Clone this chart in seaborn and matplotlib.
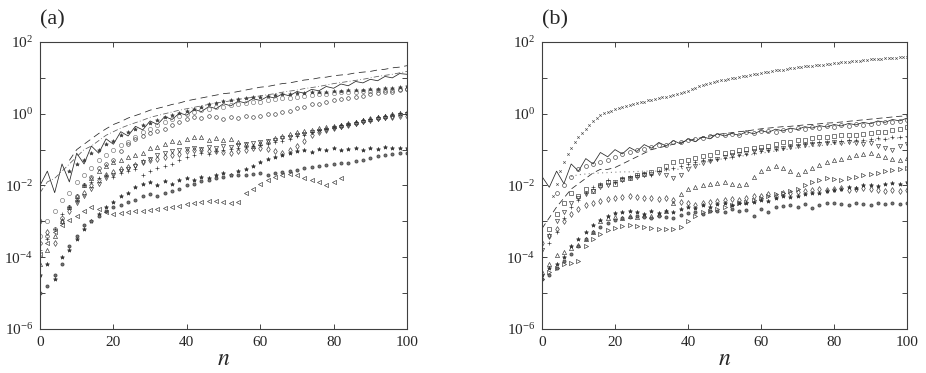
import numpy as np
import pandas as pd
import matplotlib
matplotlib.use("Agg")
import matplotlib.pyplot as plt
import matplotlib.ticker as mticker
import seaborn as sns

sns.set_style("ticks")
plt.rcParams["font.family"] = "serif"
plt.rcParams["font.serif"] = ["Liberation Serif", "DejaVu Serif"]
plt.rcParams["mathtext.fontset"] = "stix"

nan = np.nan

# n grid (every second step) and the fine grid for the x-series
N2 = list(range(0, 101, 2))
N1 = list(range(3, 101))

# ---- panel (a): log10 values at n = 0, 2, ..., 100 ----
a_longdash = [nan, nan, nan, nan, -1.3,
              -1.0, -0.85, -0.7, -0.55, -0.42,
              -0.3, -0.22, -0.12, -0.05, 0.02,
              0.1, 0.15, 0.2, 0.26, 0.3,
              0.36, 0.4, 0.44, 0.48, 0.52,
              0.56, 0.58, 0.62, 0.66, 0.7,
              0.74, 0.76, 0.8, 0.84, 0.86,
              0.9, 0.94, 0.96, 1.0, 1.02,
              1.06, 1.08, 1.1, 1.14, 1.16,
              1.18, 1.22, 1.24, 1.28, 1.3,
              1.34]
a_dashdot = [-2.2, -1.9, -1.8, -1.6, -1.4,
             -1.2, -1.0, -0.9, -0.75, -0.6,
             -0.5, -0.4, -0.32, -0.25, -0.18,
             -0.1, -0.05, 0.0, 0.05, 0.1,
             0.14, 0.18, 0.22, 0.26, 0.3,
             0.33, 0.36, 0.4, 0.43, 0.46,
             0.5, 0.53, 0.56, 0.6, 0.63,
             0.66, 0.7, 0.73, 0.76, 0.8,
             0.84, 0.87, 0.9, 0.93, 0.96,
             1.0, 1.04, 1.07, 1.1, 1.14,
             1.18]
a_solid = [-2.0, -1.6, -2.2, -1.4, -1.9,
           -1.1, -1.4, -0.9, -1.1, -0.7,
           -0.85, -0.5, -0.62, -0.35, -0.45,
           -0.2, -0.3, -0.08, -0.16, 0.02,
           -0.04, 0.12, 0.06, 0.2, 0.14,
           0.28, 0.22, 0.35, 0.3, 0.42,
           0.37, 0.48, 0.44, 0.55, 0.5,
           0.62, 0.57, 0.68, 0.64, 0.76,
           0.71, 0.83, 0.78, 0.9, 0.86,
           0.96, 0.92, 1.04, 1.0, 1.12,
           1.1]
a_circ = [-3.4, -3.0, -2.7, -2.4, -2.2,
          -1.9, -1.7, -1.5, -1.3, -1.15,
          -1.0, -0.88, -0.78, -0.65, -0.52,
          -0.42, -0.32, -0.22, -0.14, -0.06,
          0.0, 0.05, 0.1, 0.14, 0.18,
          0.2, 0.23, 0.26, 0.29, 0.32,
          0.34, 0.37, 0.4, 0.43, 0.45,
          0.48, 0.5, 0.52, 0.54, 0.56,
          0.58, 0.6, 0.61, 0.62, 0.63,
          0.64, 0.65, 0.66, 0.67, 0.68,
          0.7]
a_ast = [nan, nan, nan, nan, -1.6,
         -1.4, -1.3, -1.1, -1.0, -0.85,
         -0.75, -0.6, -0.5, -0.42, -0.32,
         -0.25, -0.18, -0.1, -0.04, 0.02,
         0.08, 0.14, 0.2, 0.26, 0.3,
         0.35, 0.38, 0.42, 0.44, 0.46,
         0.48, 0.5, 0.52, 0.54, 0.56,
         0.58, 0.59, 0.6, 0.61, 0.62,
         0.63, 0.64, 0.65, 0.66, 0.67,
         0.68, 0.7, 0.71, 0.72, 0.74,
         0.76]
a_osm = [-3.6, -3.4, -3.2, -2.9, -2.6,
         -2.3, -2.0, -1.75, -1.5, -1.4,
         -1.3, -1.05, -0.85, -0.7, -0.62,
         -0.55, -0.48, -0.42, -0.32, -0.22,
         -0.15, -0.1, -0.12, -0.06, -0.1,
         -0.14, -0.08, -0.12, -0.05, -0.1,
         -0.06, 0.0, -0.02, 0.06, 0.08,
         0.16, 0.18, 0.26, 0.28, 0.34,
         0.38, 0.42, 0.45, 0.48, 0.5,
         0.55, 0.57, 0.6, 0.62, 0.66,
         0.68]
a_tri = [-4.2, -3.8, -3.4, -3.0, -2.6,
         -2.3, -2.0, -1.8, -1.6, -1.45,
         -1.35, -1.3, -1.2, -1.15, -1.1,
         -0.95, -0.92, -0.85, -0.75, -0.78,
         -0.7, -0.66, -0.65, -0.72, -0.68,
         -0.74, -0.7, -0.78, -0.85, -0.9,
         -0.82, -0.75, -0.68, -0.62, -0.56,
         -0.5, -0.48, -0.44, -0.4, -0.36,
         -0.34, -0.3, -0.26, -0.22, -0.18,
         -0.14, -0.1, -0.06, -0.02, 0.02,
         0.05]
a_dia = [-3.0, -3.3, -3.6, -3.0, -2.7,
         -2.4, -2.2, -2.0, -1.85, -1.72,
         -1.62, -1.55, -1.48, -1.42, -1.35,
         -1.28, -1.25, -1.2, -1.15, -1.12,
         -1.05, -1.02, -1.0, -1.04, -1.05,
         -1.08, -1.1, -1.05, -1.0, -0.96,
         -0.95, -0.98, -1.05, -1.1, -1.0,
         -0.9, -0.75, -0.6, -0.5, -0.45,
         -0.4, -0.34, -0.3, -0.25, -0.2,
         -0.16, -0.13, -0.1, -0.08, -0.06,
         -0.05]
a_tdn = [nan, nan, nan, nan, nan,
         -2.5, -2.3, -2.1, -1.95, -1.8,
         -1.7, -1.6, -1.55, -1.45, -1.35,
         -1.25, -1.15, -1.1, -1.05, -1.0,
         -0.98, -0.95, -0.98, -0.92, -0.95,
         -0.9, -0.92, -0.88, -0.85, -0.82,
         -0.8, -0.76, -0.72, -0.68, -0.64,
         -0.6, -0.56, -0.52, -0.48, -0.44,
         -0.4, -0.36, -0.32, -0.28, -0.24,
         -0.2, -0.16, -0.12, -0.08, -0.04,
         0.0]
a_plus = [-3.8, -3.5, -3.2, -2.8, -2.6,
          -2.4, -2.0, -1.9, -1.8, -1.7,
          -1.75, -1.65, -1.6, -1.55, -1.7,
          -1.6, -1.5, -1.45, -1.4, -1.3,
          -1.2, -1.15, -1.1, -1.12, -1.05,
          -1.0, -0.98, -0.95, -0.92, -0.9,
          -0.88, -0.85, -0.8, -0.75, -0.7,
          -0.62, -0.58, -0.52, -0.46, -0.42,
          -0.38, -0.32, -0.28, -0.22, -0.18,
          -0.14, -0.1, -0.05, -0.02, 0.02,
          0.06]
a_star = [-4.5, -4.2, -4.6, -4.0, -3.8,
          -3.5, -3.2, -3.0, -2.8, -2.6,
          -2.45, -2.3, -2.2, -2.05, -1.95,
          -1.9, -2.0, -1.88, -1.95, -1.85,
          -1.8, -1.85, -1.75, -1.8, -1.7,
          -1.65, -1.7, -1.6, -1.55, -1.45,
          -1.35, -1.25, -1.2, -1.15, -1.1,
          -1.05, -1.0, -1.08, -0.98, -1.02,
          -0.95, -1.0, -0.97, -0.95, -1.0,
          -0.95, -0.98, -0.94, -0.96, -0.95,
          -0.95]
a_hex = [-5.0, -4.8, -4.5, -4.2, -3.7,
         -3.4, -3.1, -3.0, -2.85, -2.7,
         -2.6, -2.55, -2.45, -2.4, -2.3,
         -2.25, -2.28, -2.2, -2.15, -2.1,
         -2.0, -1.95, -1.88, -1.85, -1.8,
         -1.75, -1.72, -1.7, -1.72, -1.68,
         -1.66, -1.7, -1.65, -1.62, -1.6,
         -1.58, -1.52, -1.48, -1.45, -1.42,
         -1.4, -1.38, -1.36, -1.32, -1.28,
         -1.22, -1.18, -1.15, -1.12, -1.1,
         -1.1]
a_left = [-3.9, -3.6, -3.3, -3.1, -2.95,
          -2.85, -2.7, -2.6, -2.65, -2.75,
          -2.8, -2.78, -2.75, -2.72, -2.7,
          -2.68, -2.65, -2.62, -2.6, -2.56,
          -2.52, -2.5, -2.46, -2.42, -2.42,
          -2.45, -2.5, -2.45, -2.2, -2.1,
          -1.95, -1.85, -1.75, -1.7, -1.68,
          -1.72, -1.78, -1.85, -1.9, -1.98,
          -1.9, -1.78, nan, nan, nan,
          nan, nan, nan, nan, nan,
          nan]

# ---- panel (b) ----
b_cross = [-2.3, -1.95, -1.6, -1.34, -1.12, -0.95, -0.8,
           -0.66, -0.53, -0.42, -0.3, -0.2, -0.11, -0.04, 0.01, 0.05, 0.09,
           0.12, 0.15, 0.18, 0.21, 0.24, 0.26, 0.29, 0.32, 0.34, 0.37,
           0.39, 0.41, 0.43, 0.46, 0.48, 0.5, 0.53, 0.55, 0.58, 0.61,
           0.64, 0.68, 0.72, 0.76, 0.79, 0.82, 0.85, 0.88, 0.9, 0.93,
           0.95, 0.97, 0.99, 1.0, 1.02, 1.04, 1.06, 1.08, 1.1, 1.12,
           1.14, 1.16, 1.17, 1.19, 1.21, 1.22, 1.23, 1.25, 1.27, 1.28,
           1.3, 1.31, 1.32, 1.33, 1.34, 1.35, 1.36, 1.37, 1.38, 1.39,
           1.41, 1.42, 1.43, 1.44, 1.45, 1.46, 1.47, 1.48, 1.5, 1.51,
           1.52, 1.52, 1.53, 1.54, 1.55, 1.55, 1.56, 1.56, 1.57, 1.58,
           1.58]
b_solid = [-1.75, -2.05, -1.6, -1.95, -1.4,
           -1.6, -1.25, -1.4, -1.08, -1.2,
           -1.0, -1.12, -0.94, -1.05, -0.86,
           -0.96, -0.8, -0.9, -0.75, -0.84,
           -0.7, -0.78, -0.64, -0.7, -0.56,
           -0.62, -0.55, -0.6, -0.5, -0.56,
           -0.47, -0.52, -0.43, -0.48, -0.4,
           -0.44, -0.36, -0.4, -0.33, -0.37,
           -0.3, -0.34, -0.27, -0.31, -0.24,
           -0.28, -0.2, -0.24, -0.16, -0.2,
           -0.12]
b_dash = [-3.2, -2.9, -2.6, -2.35, -2.1,
          -1.95, -1.8, -1.65, -1.55, -1.55,
          -1.5, -1.4, -1.3, -1.2, -1.1,
          -1.0, -0.95, -0.9, -0.85, -0.8,
          -0.75, -0.7, -0.66, -0.62, -0.58,
          -0.55, -0.53, -0.5, -0.48, -0.45,
          -0.42, -0.4, -0.38, -0.36, -0.35,
          -0.33, -0.31, -0.3, -0.28, -0.26,
          -0.25, -0.23, -0.21, -0.19, -0.17,
          -0.15, -0.13, -0.11, -0.09, -0.07,
          -0.06]
b_dot = [nan, nan, nan, nan, -1.75,
         -1.7, -1.68, -1.66, -1.65, -1.64,
         -1.63, -1.62, -1.62, -1.61, -1.6,
         -1.6, -1.6, -1.58, -1.56, -1.54,
         -1.5, -1.45, -1.38, -1.32, -1.28,
         -1.25, -1.22, -1.19, -1.16, -1.13,
         -1.1, -1.07, -1.04, -1.01, -0.98,
         -0.95, -0.93, -0.91, -0.89, -0.87,
         -0.85, -0.83, -0.81, -0.79, -0.77,
         -0.75, -0.73, -0.71, -0.69, -0.67,
         -0.65]
b_circ = [nan, nan, -2.2, -2.0, -1.75,
          -1.55, -1.45, -1.4, -1.35, -1.3,
          -1.2, -1.12, -1.08, -1.02, -0.98,
          -0.93, -0.88, -0.86, -0.8, -0.78,
          -0.74, -0.7, -0.68, -0.63, -0.6,
          -0.6, -0.56, -0.58, -0.52, -0.53,
          -0.49, -0.47, -0.5, -0.44, -0.46,
          -0.41, -0.43, -0.38, -0.4, -0.35,
          -0.36, -0.32, -0.34, -0.29, -0.32,
          -0.28, -0.26, -0.24, -0.22, -0.2,
          -0.18]
b_sq = [nan, -3.2, -2.8, -2.5, -2.2,
        -2.3, -2.1, -2.15, -2.0, -1.9,
        -1.95, -1.82, -1.8, -1.72, -1.68,
        -1.62, -1.55, -1.45, -1.35, -1.32,
        -1.28, -1.22, -1.18, -1.15, -1.08,
        -1.1, -1.06, -1.02, -0.98, -0.96,
        -0.93, -0.9, -0.84, -0.8, -0.78,
        -0.74, -0.72, -0.68, -0.65, -0.64,
        -0.62, -0.6, -0.6, -0.58, -0.56,
        -0.54, -0.5, -0.5, -0.46, -0.42,
        -0.38]
b_plus = [-4.0, -3.6, -3.3, -2.9, -2.6,
          -2.4, -2.2, -2.05, -1.95, -1.85,
          -1.9, -1.8, -1.75, -1.7, -1.65,
          -1.7, -1.6, -1.55, -1.5, -1.45,
          -1.4, -1.35, -1.3, -1.28, -1.25,
          -1.22, -1.2, -1.15, -1.12, -1.1,
          -1.05, -1.0, -0.98, -0.95, -0.9,
          -0.88, -0.85, -0.82, -0.8, -0.78,
          -0.78, -0.75, -0.74, -0.72, -0.72,
          -0.7, -0.68, -0.7, -0.66, -0.64,
          -0.62]
b_tdn = [-3.8, -3.4, -3.0, -2.75, -2.5,
         -2.35, -2.25, -2.15, -2.05, -1.98,
         -1.9, -1.85, -1.78, -1.75, -1.7,
         -1.68, -1.65, -1.72, -1.78, -1.7,
         -1.55, -1.45, -1.38, -1.32, -1.25,
         -1.2, -1.15, -1.12, -1.1, -1.05,
         -1.02, -1.0, -0.98, -0.95, -0.92,
         -0.9, -0.88, -0.85, -0.85, -0.82,
         -0.8, -0.82, -0.8, -0.82, -0.85,
         -0.82, -0.9, -0.95, -1.0, -0.9,
         -0.85]
b_tup = [-4.4, -4.2, -3.95, -3.85, -3.75,
         -3.65, -3.5, -3.3, -3.0, -2.92,
         -2.88, -2.9, -2.85, -2.88, -2.82,
         -2.85, -2.8, -2.7, -2.5, -2.25,
         -2.1, -2.05, -2.0, -1.95, -1.92,
         -1.9, -1.95, -2.0, -1.95, -1.75,
         -1.6, -1.5, -1.45, -1.52, -1.6,
         -1.68, -1.6, -1.5, -1.42, -1.35,
         -1.3, -1.25, -1.2, -1.15, -1.12,
         -1.1, -1.15, -1.2, -1.25, -1.28,
         -1.22]
b_dia = [-3.6, -3.4, -3.2, -3.0, -2.8,
         -2.65, -2.55, -2.48, -2.42, -2.38,
         -2.35, -2.32, -2.3, -2.32, -2.35,
         -2.36, -2.38, -2.36, -2.4, -2.45,
         -2.5, -2.55, -2.5, -2.45, -2.42,
         -2.4, -2.38, -2.4, -2.36, -2.3,
         -2.28, -2.25, -2.3, -2.22, -2.2,
         -2.18, -2.15, -2.12, -2.1, -2.12,
         -2.1, -2.08, -2.12, -2.1, -2.08,
         -2.1, -2.12, -2.14, -2.12, -2.14,
         -2.12]
b_rt = [-4.6, -4.4, -4.3, -4.2, -4.15,
        -4.1, -3.7, -3.5, -3.35, -3.25,
        -3.18, -3.12, -3.1, -3.12, -3.15,
        -3.18, -3.2, -3.22, -3.22, -3.15,
        -3.0, -2.85, -2.75, -2.7, -2.65,
        -2.6, -2.55, -2.5, -2.45, -2.4,
        -2.35, -2.3, -2.25, -2.2, -2.15,
        -2.1, -2.0, -1.9, -1.85, -1.8,
        -1.82, -1.85, -1.8, -1.75, -1.72,
        -1.68, -1.65, -1.6, -1.58, -1.55,
        -1.5]
b_star = [-4.5, -4.3, -4.2, -4.0, -3.7,
          -3.5, -3.3, -3.1, -2.95, -2.85,
          -2.78, -2.75, -2.7, -2.75, -2.8,
          -2.72, -2.78, -2.7, -2.75, -2.65,
          -2.6, -2.62, -2.55, -2.6, -2.52,
          -2.5, -2.55, -2.48, -2.5, -2.45,
          -2.4, -2.42, -2.35, -2.3, -2.32,
          -2.28, -2.25, -2.2, -2.22, -2.15,
          -2.12, -2.1, -2.05, -2.08, -2.0,
          -1.98, -2.02, -1.95, -1.92, -1.95,
          -1.9]
b_hex = [-4.6, -4.5, -4.3, -4.1, -3.9,
         -3.7, -3.5, -3.3, -3.15, -3.05,
         -2.95, -2.9, -2.88, -2.85, -2.88,
         -2.9, -2.85, -2.88, -2.9, -2.82,
         -2.78, -2.75, -2.8, -2.72, -2.7,
         -2.75, -2.65, -2.72, -2.68, -2.85,
         -2.65, -2.75, -2.6, -2.58, -2.55,
         -2.6, -2.52, -2.62, -2.55, -2.5,
         -2.48, -2.52, -2.55, -2.5, -2.52,
         -2.55, -2.5, -2.52, -2.5, -2.52,
         -2.5]

# styles
LINE = dict(color="0.15", linewidth=0.55)
def mk(marker, ms=2.8, fill="none", color="0.2"):
    return dict(marker=marker, linestyle="none", color=color,
                markerfacecolor=fill, markeredgecolor=color,
                markersize=ms, markeredgewidth=0.45)

panel_a = [
    (a_longdash, dict(LINE, dashes=(9, 6))),
    (a_dashdot, dict(LINE, dashes=(7, 3, 1, 3), color="0.35")),
    (a_solid, LINE),
    (a_circ, mk("o", 3.0, color="0.45")),
    (a_ast, mk("*", 2.8, fill="0.25", color="0.25")),
    (a_osm, mk("o", 2.6)),
    (a_tri, mk("^", 3.0)),
    (a_dia, mk("d", 3.0)),
    (a_tdn, mk("v", 3.0)),
    (a_plus, mk("+", 3.2)),
    (a_star, mk("*", 3.0, fill="0.2")),
    (a_hex, mk("8", 2.4, fill="0.45")),
    (a_left, mk("<", 3.0)),
]
panel_b = [
    (b_solid, LINE),
    (b_dash, dict(LINE, dashes=(8, 5))),
    (b_dot, dict(color="0.55", linewidth=0.8, dashes=(1, 3))),
    (b_circ, mk("o", 2.8, color="0.25")),
    (b_sq, mk("s", 2.8)),
    (b_plus, mk("+", 3.2)),
    (b_tdn, mk("v", 3.0)),
    (b_tup, mk("^", 3.0)),
    (b_dia, mk("d", 3.0)),
    (b_rt, mk(">", 3.0)),
    (b_star, mk("*", 3.0, fill="0.2")),
    (b_hex, mk("8", 2.4, fill="0.45")),
]

fig = plt.figure(figsize=(9.26, 3.73), dpi=100)
ax_a = fig.add_axes([0.0432, 0.118, 0.3963, 0.7694])
ax_b = fig.add_axes([0.5853, 0.118, 0.3942, 0.7694])


def draw(ax, x, vals, style):
    df = pd.DataFrame({"n": x, "v": 10.0 ** np.asarray(vals, dtype=float)}).dropna()
    sns.lineplot(data=df, x="n", y="v", ax=ax, estimator=None, sort=False,
                 legend=False, **style)


for vals, style in panel_a:
    draw(ax_a, N2, vals, style)
for vals, style in panel_b:
    draw(ax_b, N2, vals, style)
draw(ax_b, N1, b_cross, mk("x", 1.8, color="0.3"))

for ax, lab in [(ax_a, "(a)"), (ax_b, "(b)")]:
    ax.set_yscale("log")
    ax.set_xlim(0, 100)
    ax.set_ylim(1e-6, 1e2)
    ax.yaxis.set_major_locator(mticker.FixedLocator([1e-6, 1e-4, 1e-2, 1e0, 1e2]))
    ax.yaxis.set_minor_locator(mticker.FixedLocator([1e-5, 1e-3, 1e-1, 1e1]))
    ax.yaxis.set_minor_formatter(mticker.NullFormatter())
    ax.set_xticks([0, 20, 40, 60, 80, 100])
    ax.tick_params(which="both", direction="in", top=True, right=True,
                   length=3.5, width=0.6, labelsize=11, pad=5)
    for s in ax.spines.values():
        s.set_linewidth(0.8)
        s.set_color("0.25")
    ax.set_xlabel("$n$", fontsize=17, labelpad=0)
    ax.set_ylabel("")
    ax.text(0.0, 1.045, lab, transform=ax.transAxes, fontsize=16,
            ha="left", va="bottom")

fig.savefig("out.png", dpi=100)
